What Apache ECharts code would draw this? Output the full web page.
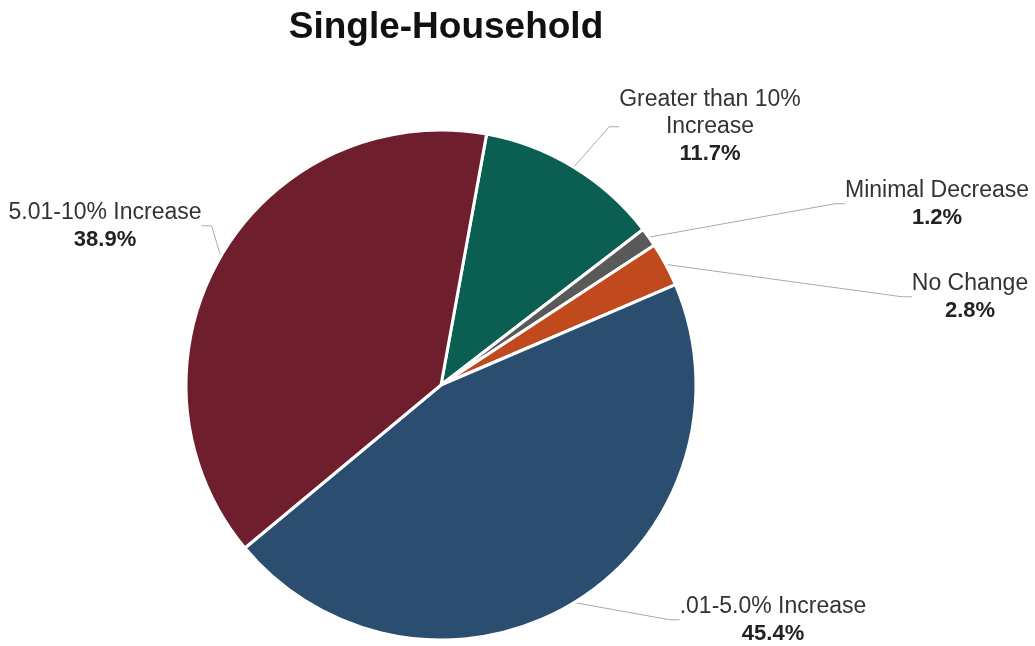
<!DOCTYPE html>
<html><head><meta charset="utf-8">
<script src="https://cdn.jsdelivr.net/npm/echarts@6/dist/echarts.min.js"></script>
<style>html,body{margin:0;padding:0;background:#fff}#c{width:1035px;height:646px}</style>
</head><body><div id="c"></div>
<script>
const categories = ['Greater than 10%\nIncrease', 'Minimal Decrease', 'No Change', '.01-5.0% Increase', '5.01-10% Increase'];
const values = [11.7, 1.2, 2.8, 45.4, 38.9];
const colors = ['#0b5e52', '#595959', '#c04a1e', '#2a4d70', '#6e1e2d'];
const labelPos = [[710, 127], [937, 204], [970, 297], [773, 620], [105, 226]];

const chart = echarts.init(document.getElementById('c'));
chart.setOption({
  animation: false,
  title: {
    text: 'Single-Household', left: 441, top: 4, textAlign: 'center',
    textStyle: { fontFamily: 'Liberation Sans, Arial', fontSize: 37, fontWeight: 'bold', color: '#111' }
  },
  series: [{
    type: 'pie',
    center: [441, 385],
    radius: 255,
    startAngle: 79.7,
    clockwise: true,
    data: categories.map((c, i) => ({ name: c, value: values[i], itemStyle: { color: colors[i] } })),
    itemStyle: { borderColor: '#fff', borderWidth: 3 },
    label: {
      show: true,
      overflow: 'none',
      edgeDistance: 0,
      formatter: p => p.name.split('\n').map(s => '{n|' + s + '}').join('\n') + '\n{b|' + p.value.toFixed(1) + '%}',
      rich: {
        n: { fontFamily: 'Liberation Sans, Arial', fontSize: 23, color: '#333', lineHeight: 27, align: 'center' },
        b: { fontFamily: 'Liberation Sans, Arial', fontSize: 22, fontWeight: 'bold', color: '#222', lineHeight: 27, align: 'center' }
      }
    },
    labelLine: { show: true, length: 20, length2: 10, lineStyle: { color: '#aaa', width: 1 } },
    labelLayout: p => ({ x: labelPos[p.dataIndex][0], y: labelPos[p.dataIndex][1], align: 'center', verticalAlign: 'middle' })
  }]
});
</script></body></html>
